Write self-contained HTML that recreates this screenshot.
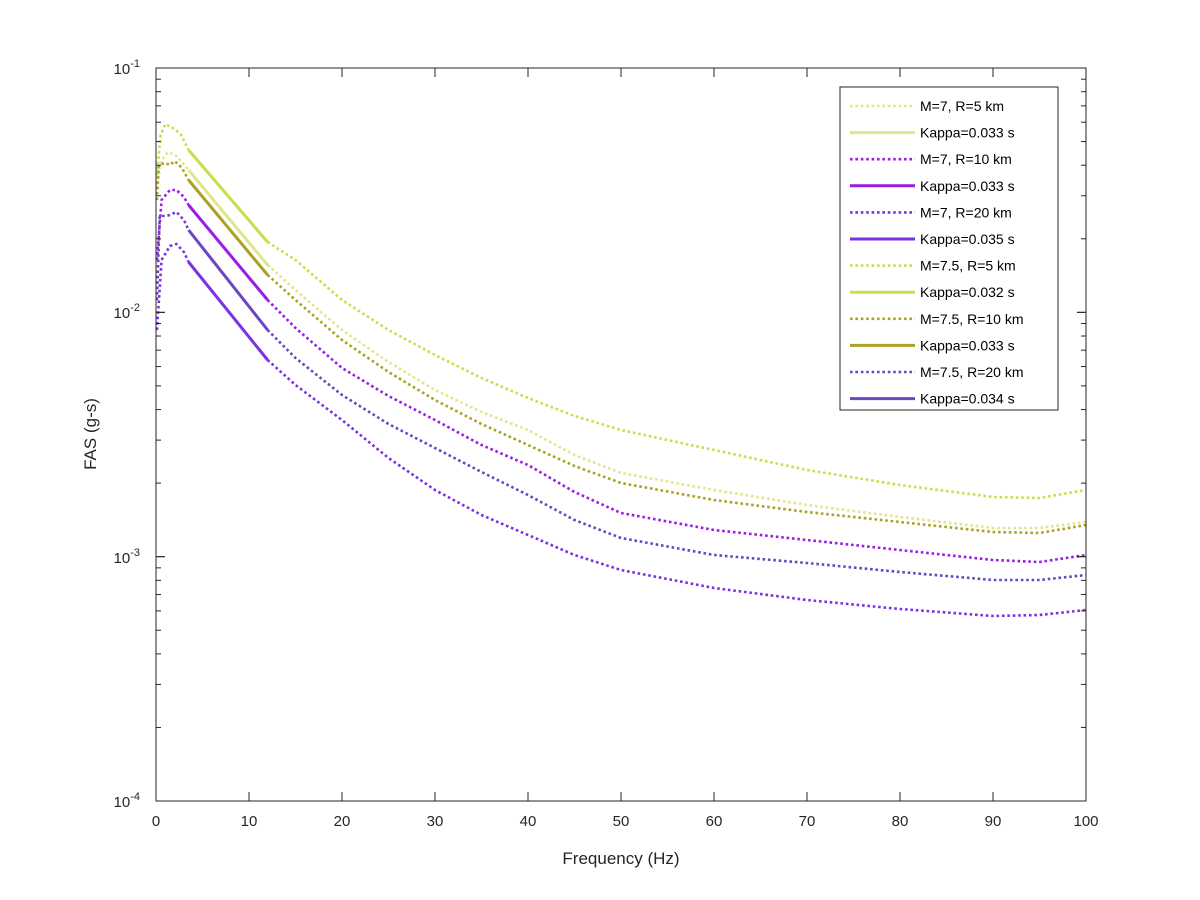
<!DOCTYPE html>
<html><head><meta charset="utf-8"><style>
body{margin:0;background:#fff}
svg{display:block;font-family:"Liberation Sans",Arial,sans-serif}
</style></head><body>
<svg id="s" width="1200" height="900" xmlns="http://www.w3.org/2000/svg">
<rect width="1200" height="900" fill="#fff"/>
<g id="curves"></g>
<rect x="156" y="68" width="930" height="733" fill="none" stroke="#262626" stroke-width="1"/>
<g id="ticks" stroke="#262626" stroke-width="1"></g>
<g font-size="15" fill="#262626" text-anchor="middle" id="xl"></g>
<g font-size="15" fill="#262626" text-anchor="end">
<text x="140" y="74">10<tspan dy="-7" font-size="11">-1</tspan></text>
<text x="140" y="318">10<tspan dy="-7" font-size="11">-2</tspan></text>
<text x="140" y="563">10<tspan dy="-7" font-size="11">-3</tspan></text>
<text x="140" y="807">10<tspan dy="-7" font-size="11">-4</tspan></text>
</g>
<text x="621" y="864" font-size="17" fill="#262626" text-anchor="middle">Frequency (Hz)</text>
<text transform="translate(96,434) rotate(-90)" font-size="17" fill="#262626" text-anchor="middle">FAS (g-s)</text>
<rect x="840" y="87" width="218" height="323" fill="#fff" stroke="#262626" stroke-width="1"/>
<g id="leg" font-size="14" fill="#000"></g>
</svg>
<script>
const NS="http://www.w3.org/2000/svg";
function X(f){return 156+9.3*f}
const C=[
 {c:"#c6df4a",n:"M=7.5, R=5 km",k:"Kappa=0.032 s",pre:[[0.1,175],[0.5,135],[1,124],[2,129],[2.7,135],[3.5,150]],s:[[3.5,150],[12,242]],post:[[12,242],[15,260],[20,300],[25,330],[30,355],[35,378],[40,398],[45,416],[50,430],[60,450],[70,470],[80,485],[90,497],[95,498],[100,490]]},
 {c:"#dde88a",n:"M=7, R=5 km",k:"Kappa=0.033 s",pre:[[0.1,185],[0.6,160],[1.3,152],[2.2,156],[3.5,170]],s:[[3.5,170],[12,265]],post:[[12,265],[15,290],[20,330],[25,362],[30,390],[35,412],[40,430],[45,455],[50,473],[60,490],[70,505],[80,517],[90,528],[95,528],[100,522]]},
 {c:"#aaa222",n:"M=7.5, R=10 km",k:"Kappa=0.033 s",pre:[[0.1,200],[0.3,165],[1,163],[1.5,165],[2,161],[2.8,168],[3.5,180]],s:[[3.5,180],[12,275]],post:[[12,275],[15,300],[20,340],[25,372],[30,400],[35,424],[40,445],[45,466],[50,483],[60,500],[70,512],[80,522],[90,532],[95,533],[100,525]]},
 {c:"#9a1de6",n:"M=7, R=10 km",k:"Kappa=0.033 s",pre:[[0.1,260],[0.6,200],[1.5,190],[2.2,190],[3,197],[3.5,205]],s:[[3.5,205],[12,300]],post:[[12,300],[15,328],[20,368],[25,396],[30,420],[35,445],[40,465],[45,492],[50,513],[60,530],[70,540],[80,550],[90,560],[95,562],[100,555]]},
 {c:"#6c45c2",n:"M=7.5, R=20 km",k:"Kappa=0.034 s",pre:[[0.1,300],[0.4,216],[1,216],[1.5,215],[2.2,212],[3,220],[3.5,230]],s:[[3.5,230],[12,330]],post:[[12,330],[15,358],[20,395],[25,424],[30,448],[35,472],[40,495],[45,520],[50,538],[60,555],[70,563],[80,572],[90,580],[95,580],[100,575]]},
 {c:"#7a30e8",n:"M=7, R=20 km",k:"Kappa=0.035 s",pre:[[0.1,330],[0.6,260],[1.5,246],[2.2,244],[3,252],[3.5,262]],s:[[3.5,262],[12,360]],post:[[12,360],[15,385],[20,420],[25,458],[30,490],[35,515],[40,535],[45,555],[50,570],[60,588],[70,600],[80,609],[90,616],[95,615],[100,610]]}
];
const g=document.getElementById("curves");
function pl(pts,col,dash){const p=document.createElementNS(NS,"polyline");p.setAttribute("points",pts.map(a=>X(a[0])+","+a[1]).join(" "));p.setAttribute("fill","none");p.setAttribute("stroke",col);p.setAttribute("stroke-width",dash?2.6:3);p.setAttribute("stroke-linejoin","round");if(dash)p.setAttribute("stroke-dasharray","2.6 2.8");g.appendChild(p);}
C.forEach(c=>{pl(c.pre,c.c,1);pl(c.s,c.c,0);pl(c.post,c.c,1);});
const t=document.getElementById("ticks");
function ln(x1,y1,x2,y2){const l=document.createElementNS(NS,"line");l.setAttribute("x1",x1);l.setAttribute("y1",y1);l.setAttribute("x2",x2);l.setAttribute("y2",y2);t.appendChild(l);}
const xl=document.getElementById("xl");
for(let f=0;f<=100;f+=10){const x=X(f);ln(x,801,x,792);ln(x,68,x,77);const tx=document.createElementNS(NS,"text");tx.setAttribute("x",x);tx.setAttribute("y",826);tx.textContent=f;xl.appendChild(tx);}
for(let d=0;d<3;d++){for(let m=1;m<=10;m++){const y=801-(d+Math.log10(m))*244.33;const L=(m==1||m==10)?9:5;ln(156,y,156+L,y);ln(1086,y,1086-L,y);}}
const lg=document.getElementById("leg");
const order=[1,3,5,0,2,4];let i=0;
order.forEach(k=>{const c=C[k];[[c.n,1],[c.k,0]].forEach(e=>{const y=106+i*26.6;const l=document.createElementNS(NS,"line");l.setAttribute("x1",850);l.setAttribute("x2",915);l.setAttribute("y1",y);l.setAttribute("y2",y);l.setAttribute("stroke",c.c);l.setAttribute("stroke-width",e[1]?2.6:3);if(e[1])l.setAttribute("stroke-dasharray","2.6 2.8");lg.appendChild(l);const tx=document.createElementNS(NS,"text");tx.setAttribute("x",920);tx.setAttribute("y",y+5);tx.textContent=e[0];lg.appendChild(tx);i++;});});
</script>
</body></html>
